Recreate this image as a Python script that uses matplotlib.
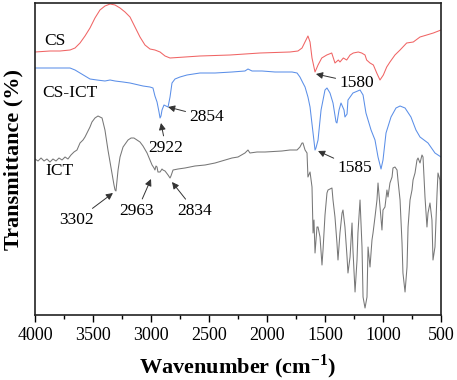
import matplotlib
matplotlib.use("Agg")
import matplotlib.pyplot as plt
from matplotlib.ticker import MultipleLocator, NullLocator

plt.rcParams['font.family'] = ['Liberation Serif', 'DejaVu Serif']
plt.rcParams['mathtext.fontset'] = 'custom'
plt.rcParams['mathtext.rm'] = 'Liberation Serif'
plt.rcParams['mathtext.bf'] = 'Liberation Serif:bold'

# ---------------- data (wavenumber in cm^-1, transmittance in offset arbitrary units) -------------
cs_wn = [4000, 3871, 3784, 3698, 3655, 3612, 3569, 3526, 3483, 3440, 3397, 3353, 3310, 3267, 3224,
         3181, 3138, 3095, 3052, 3009, 2966, 2922, 2879, 2836, 2578, 2319, 2060, 1802, 1733, 1698,
         1664, 1647, 1629, 1612, 1586, 1560, 1528, 1485, 1442, 1428, 1414, 1385, 1371, 1342, 1313,
         1284, 1256, 1213, 1184, 1155, 1141, 1112, 1083, 1054, 1026, 997, 968, 940, 897, 853, 796,
         739, 681, 623, 566, 500]
cs_t = [263, 264, 264, 265, 267, 272, 279, 287, 297, 305, 309, 311, 310, 307, 303,
        298, 288, 278, 270, 266, 265, 263, 259, 257, 259, 260, 262, 263, 264, 267,
        275, 279, 273, 257, 243, 250, 257, 260, 262, 257, 252, 255, 253, 257, 255,
        260, 262, 263, 262, 260, 255, 252, 250, 242, 235, 240, 248, 253, 260, 265, 272,
        273, 278, 280, 282, 285]

csict_wn = [4000, 3871, 3698, 3655, 3612, 3526, 3466, 3397, 3353, 3310, 3241, 3181, 3069, 3009,
            2983, 2966, 2948, 2931, 2922, 2914, 2905, 2888, 2871, 2853, 2836, 2819, 2793, 2750,
            2690, 2578, 2448, 2302, 2190, 2164, 2129, 2043, 1931, 1784, 1741, 1716, 1690, 1672,
            1647, 1629, 1603, 1586, 1578, 1560, 1534, 1500, 1483, 1457, 1431, 1405, 1397, 1379,
            1362, 1336, 1328, 1310, 1302, 1259, 1198, 1172, 1147, 1103, 1069, 1043, 1017, 1000,
            974, 931, 888, 853, 810, 759, 716, 681, 612, 552, 500]
csict_t = [247, 247, 247, 245, 242, 236, 235, 234, 235, 234, 233, 232, 229, 228,
           227, 219, 213, 203, 197, 199, 205, 210, 209, 208, 218, 232, 236, 238,
           240, 242, 242, 243, 244, 246, 244, 244, 243, 243, 242, 238, 232, 228,
           218, 208, 182, 165, 167, 175, 205, 225, 227, 222, 212, 193, 192, 205,
           212, 205, 198, 201, 215, 222, 225, 220, 202, 185, 175, 158, 146, 155,
           182, 198, 207, 209, 207, 198, 185, 178, 172, 162, 158]

ict_wn = [4000, 3974, 3948, 3922, 3897, 3871, 3845, 3819, 3793, 3767, 3741, 3716, 3690, 3664, 3638,
          3612, 3586, 3569, 3552, 3526, 3509, 3483, 3457, 3440, 3422, 3397, 3371, 3353, 3336, 3319,
          3310, 3302, 3293, 3284, 3267, 3241, 3198, 3172, 3147, 3121, 3095, 3069, 3034, 3009, 2991,
          2974, 2966, 2957, 2948, 2940, 2922, 2905, 2897, 2879, 2853, 2836, 2828, 2810, 2767, 2707,
          2621, 2534, 2448, 2362, 2302, 2250, 2190, 2164, 2147, 2086, 2017, 1871, 1802, 1741, 1716,
          1698, 1690, 1672, 1655, 1647, 1629, 1612, 1603, 1595, 1586, 1569, 1560, 1543, 1526, 1517,
          1500, 1483, 1474, 1440, 1431, 1414, 1397, 1388, 1371, 1353, 1345, 1328, 1310, 1302, 1284,
          1267, 1259, 1241, 1224, 1216, 1198, 1181, 1172, 1155, 1138, 1129, 1112, 1095, 1086, 1069,
          1052, 1043, 1026, 1009, 1000, 983, 966, 957, 940, 922, 914, 897, 879, 871, 853,
          836, 828, 810, 793, 784, 767, 750, 741, 724, 707, 698, 681, 664, 655, 638,
          621, 612, 595, 578, 569, 552, 534, 526, 509, 500]
ict_t = [156, 154, 157, 154, 156, 153, 156, 154, 157, 155, 158, 156, 160, 163, 165,
         172, 175, 178, 182, 188, 193, 197, 199, 198, 197, 185, 165, 153, 142, 130,
         125, 124, 135, 145, 158, 168, 175, 177, 177, 175, 173, 169, 162, 155, 150,
         147, 145, 149, 148, 143, 143, 146, 145, 144, 140, 137, 139, 145, 146, 147,
         149, 150, 152, 155, 157, 158, 162, 165, 162, 163, 163, 164, 165, 165, 168,
         172, 172, 165, 162, 138, 143, 128, 82, 95, 62, 88, 88, 78, 50, 65,
         100, 122, 125, 127, 115, 98, 72, 55, 82, 102, 105, 88, 58, 42, 58,
         92, 65, 23, 55, 82, 115, 68, 18, 7, 18, 68, 48, 75, 82, 98,
         115, 132, 108, 85, 105, 108, 125, 118, 132, 138, 147, 148, 145, 135, 115,
         72, 42, 23, 48, 88, 115, 125, 135, 142, 155, 157, 152, 160, 158, 118,
         88, 102, 112, 95, 55, 68, 122, 142, 135, 105]

# ---------------- figure ----------------
fig = plt.figure(figsize=(4.57, 3.80), dpi=100)
ax = fig.add_axes([35 / 457, 1 - 315 / 380, 406 / 457, 312 / 380])

ax.plot(cs_wn, cs_t, color='#f06464', lw=0.75)
ax.plot(csict_wn, csict_t, color='#5b8fe8', lw=0.75)
ax.plot(ict_wn, ict_t, color='#777777', lw=0.75)

ax.set_xlim(4000, 500)
ax.set_ylim(0, 312)
ax.xaxis.set_major_locator(MultipleLocator(500))
ax.xaxis.set_minor_locator(MultipleLocator(250))
ax.yaxis.set_major_locator(NullLocator())
ax.yaxis.set_minor_locator(NullLocator())
ax.tick_params(axis='x', which='major', direction='out', length=5, width=1.0, labelsize=13, pad=4)
ax.tick_params(axis='x', which='minor', direction='out', length=3, width=1.0)
for s in ax.spines.values():
    s.set_linewidth(1.2)
    s.set_color('#222222')

ax.set_xlabel(r'Wavenumber (cm$^{\mathbf{-1}}$)', fontsize=16, fontweight='bold', labelpad=6)
ax.set_ylabel('Transmittance (%)', fontsize=16, fontweight='bold', labelpad=8)

fs = 12.5
ax.text(3828, 274, 'CS', fontsize=fs, ha='center', va='center')
ax.text(3698, 222, 'CS-ICT', fontsize=fs, ha='center', va='center')
ax.text(3793, 144, 'ICT', fontsize=fs, ha='center', va='center')

arrow = dict(arrowstyle='-|>', color='#333333', lw=0.7, mutation_scale=10, shrinkA=1, shrinkB=0)
notes = [
    ('2854', (2853, 208), (2517, 198)),
    ('2922', (2914, 192), (2871, 167)),
    ('1580', (1578, 241), (1224, 232)),
    ('1585', (1560, 164), (1241, 147)),
    ('3302', (3328, 122), (3638, 95)),
    ('2963', (3000, 136), (3121, 104)),
    ('2834', (2819, 133), (2621, 104)),
]
for label, xy, xyt in notes:
    ax.annotate(label, xy=xy, xytext=xyt, fontsize=fs, ha='center', va='center',
                arrowprops=arrow)

fig.savefig('out.png', dpi=100)
